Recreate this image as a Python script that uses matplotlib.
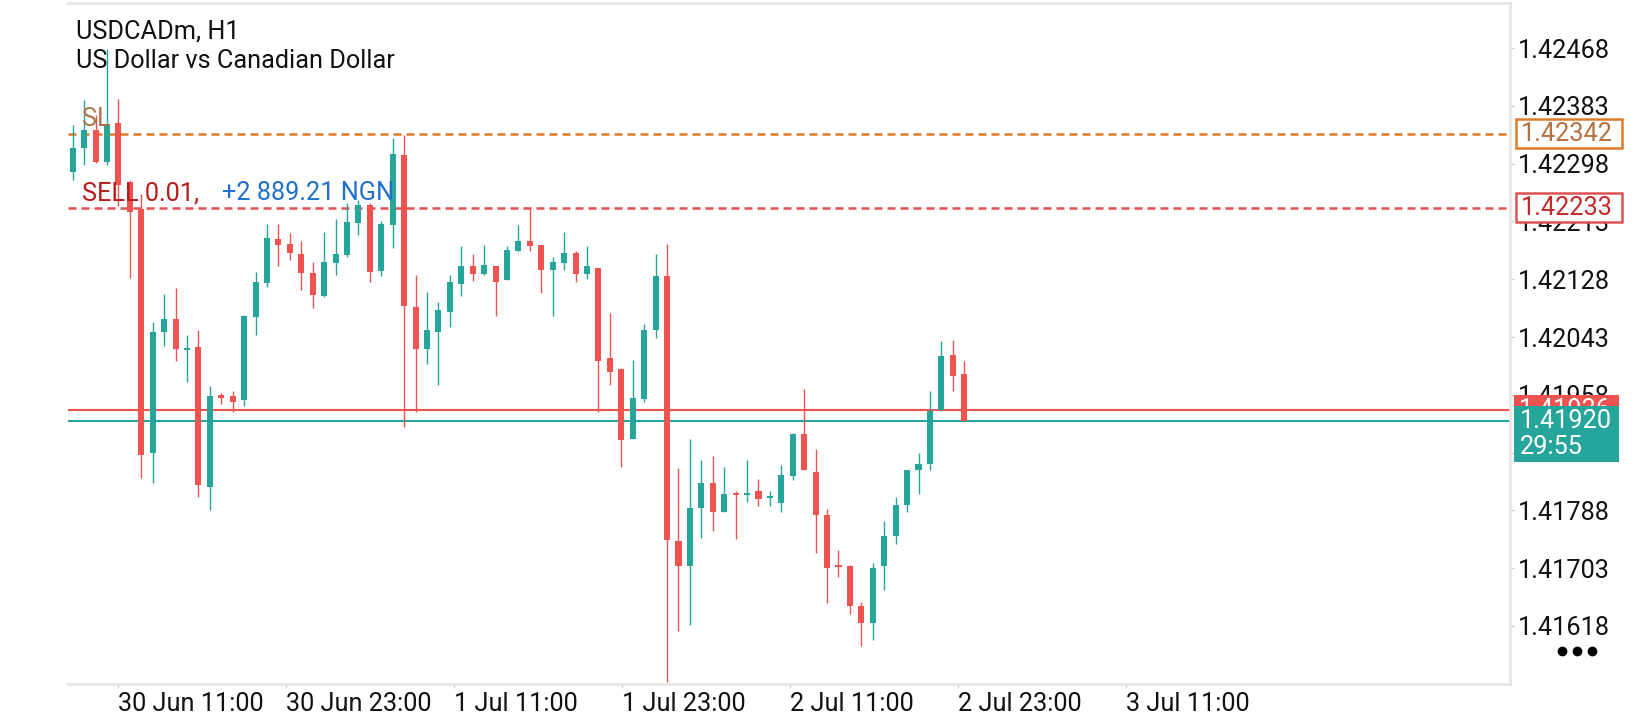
import matplotlib
matplotlib.use('Agg')
import matplotlib.pyplot as plt
import numpy as np
from matplotlib.patches import Rectangle
from matplotlib.lines import Line2D
from matplotlib.transforms import blended_transform_factory

plt.rcParams['font.family'] = ['Roboto', 'DejaVu Sans']

# USDCADm H1 candles (oldest first)
opens = [1.42286, 1.42321, 1.42347, 1.42301, 1.42357, 1.42271, 1.42231, 1.41873, 1.42050, 1.42070,
         1.42025, 1.42028, 1.41822, 1.41958, 1.41956, 1.41950, 1.42073, 1.42123, 1.42187, 1.42180,
         1.42165, 1.42137, 1.42104, 1.42152, 1.42164, 1.42211, 1.42237, 1.42140, 1.42208, 1.42311,
         1.42087, 1.42026, 1.42051, 1.42080, 1.42121, 1.42147, 1.42136, 1.42148, 1.42127, 1.42170,
         1.42184, 1.42178, 1.42142, 1.42152, 1.42167, 1.42136, 1.42144, 1.42012, 1.41996, 1.41893,
         1.41952, 1.42054, 1.42133, 1.41743, 1.41706, 1.41792, 1.41829, 1.41785, 1.41814, 1.41810,
         1.41816, 1.41807, 1.41799, 1.41839, 1.41901, 1.41845, 1.41781, 1.41707, 1.41706, 1.41648,
         1.41623, 1.41706, 1.41750, 1.41796, 1.41848, 1.41856, 1.41936, 1.42017, 1.41989]
highs = [1.42355, 1.42392, 1.42370, 1.42467, 1.42393, 1.42274, 1.42254, 1.42065, 1.42106, 1.42115,
         1.42046, 1.42054, 1.41971, 1.41960, 1.41964, 1.42076, 1.42138, 1.42209, 1.42209, 1.42196,
         1.42184, 1.42154, 1.42197, 1.42216, 1.42240, 1.42245, 1.42240, 1.42213, 1.42335, 1.42340,
         1.42134, 1.42109, 1.42095, 1.42134, 1.42177, 1.42165, 1.42178, 1.42148, 1.42177, 1.42208,
         1.42234, 1.42178, 1.42160, 1.42198, 1.42169, 1.42177, 1.42144, 1.42079, 1.41997, 1.42009,
         1.42062, 1.42165, 1.42180, 1.41850, 1.41893, 1.41862, 1.41868, 1.41852, 1.41816, 1.41862,
         1.41834, 1.41816, 1.41855, 1.41902, 1.41967, 1.41879, 1.41790, 1.41730, 1.41708, 1.41654,
         1.41711, 1.41773, 1.41808, 1.41848, 1.41872, 1.41963, 1.42037, 1.42039, 1.42008]
lows = [1.42274, 1.42296, 1.42299, 1.42296, 1.42235, 1.42130, 1.41835, 1.41829, 1.42030, 1.42007,
        1.41977, 1.41808, 1.41789, 1.41944, 1.41932, 1.41941, 1.42046, 1.42117, 1.42147, 1.42156,
        1.42112, 1.42085, 1.42102, 1.42134, 1.42161, 1.42193, 1.42124, 1.42133, 1.42174, 1.41910,
        1.41932, 1.42004, 1.41972, 1.42057, 1.42104, 1.42126, 1.42134, 1.42074, 1.42127, 1.42170,
        1.42170, 1.42108, 1.42074, 1.42141, 1.42124, 1.42128, 1.41932, 1.41972, 1.41852, 1.41893,
        1.41947, 1.42041, 1.41536, 1.41610, 1.41619, 1.41748, 1.41757, 1.41785, 1.41746, 1.41801,
        1.41794, 1.41794, 1.41785, 1.41833, 1.41847, 1.41725, 1.41652, 1.41690, 1.41636, 1.41589,
        1.41597, 1.41671, 1.41739, 1.41785, 1.41812, 1.41847, 1.41934, 1.41963, 1.41920]
closes = [1.42321, 1.42348, 1.42301, 1.42356, 1.42267, 1.42227, 1.41870, 1.42050, 1.42069, 1.42025,
          1.42027, 1.41825, 1.41956, 1.41953, 1.41947, 1.42074, 1.42124, 1.42188, 1.42179, 1.42167,
          1.42137, 1.42105, 1.42153, 1.42165, 1.42212, 1.42237, 1.42139, 1.42209, 1.42312, 1.42089,
          1.42026, 1.42053, 1.42083, 1.42124, 1.42147, 1.42136, 1.42149, 1.42124, 1.42171, 1.42184,
          1.42177, 1.42142, 1.42154, 1.42167, 1.42136, 1.42147, 1.42008, 1.41992, 1.41892, 1.41953,
          1.42054, 1.42133, 1.41744, 1.41706, 1.41791, 1.41829, 1.41785, 1.41812, 1.41810, 1.41814,
          1.41805, 1.41809, 1.41840, 1.41901, 1.41847, 1.41781, 1.41703, 1.41705, 1.41647, 1.41623,
          1.41704, 1.41751, 1.41796, 1.41848, 1.41856, 1.41934, 1.42015, 1.41986, 1.41920]

price_ticks = [1.42468, 1.42383, 1.42298, 1.42213, 1.42128, 1.42043, 1.41958,
               1.41873, 1.41788, 1.41703, 1.41618]
time_labels = ['30 Jun 11:00', '30 Jun 23:00', '1 Jul 11:00', '1 Jul 23:00',
               '2 Jul 11:00', '2 Jul 23:00', '3 Jul 11:00']
time_tick_pos = [3.94, 18.64, 33.34, 48.04, 62.74, 77.44, 92.14]

sl_price = 1.42342
entry_price = 1.42233
ask_price = 1.41936
bid_price = 1.41920
countdown = '29:55'
order_text = 'SELL 0.01,'
profit_text = '+2 889.21 NGN'

TEAL = '#26a69a'
RED = '#ef5350'
ORANGE = '#e07b2a'
GRID = '#e4e4e4'
FS = 18.2

W, H = 1640, 720
fig = plt.figure(figsize=(W / 100, H / 100), dpi=100)
ax = fig.add_axes([68 / W, 36 / H, 1442 / W, 681 / H])
ylo, yhi = 1.415327, 1.425342
ax.set_xlim(-0.41, 125.75)
ax.set_ylim(ylo, yhi)
ppx = (yhi - ylo) / 681  # price per pixel


def fx(x):
    return x / W


def fy(y):
    return 1 - y / H


# candles
o = np.array(opens)
c = np.array(closes)
xs = np.arange(len(o))
cols = np.where(c >= o, TEAL, RED)
ax.vlines(xs, lows, highs, colors=cols, linewidth=1.0, zorder=3)
bh = np.abs(c - o)
small = bh < 2 * ppx
bb = np.where(small, (o + c) / 2 - ppx, np.minimum(o, c))
bh = np.where(small, 2 * ppx, bh)
ax.bar(xs, bh, bottom=bb, width=0.53, color=cols, linewidth=0, zorder=4)

# trade / price levels
ax.axhline(sl_price, color=ORANGE, lw=1.8, dashes=(3.2, 2.0), zorder=2)
ax.axhline(entry_price, color='#e05252', lw=1.8, dashes=(3.2, 2.0), zorder=2)
ax.axhline(ask_price, color=RED, lw=1.5, zorder=2)
ax.axhline(bid_price, color=TEAL, lw=1.5, zorder=2)

# frame and axes
for side in ['top', 'right', 'bottom']:
    ax.spines[side].set_color(GRID)
    ax.spines[side].set_linewidth(1.8)
ax.spines['left'].set_visible(False)
ax.yaxis.tick_right()
ax.set_yticks(price_ticks)
ax.set_yticklabels([f'{p:.5f}' for p in price_ticks])
ax.tick_params(axis='y', length=3, width=1, color='#cfcfcf', pad=3,
               labelsize=FS, labelcolor='#111111')
ax.set_xticks(time_tick_pos)
ax.set_xticklabels(time_labels)
ax.tick_params(axis='x', length=3, width=1, color='#cfcfcf', pad=3,
               labelsize=FS, labelcolor='#111111')
for lab in ax.get_xticklabels():
    lab.set_ha('left')

# title
fig.text(fx(76), fy(31), 'USDCADm, H1', fontsize=FS, color='#111111', va='center')
fig.text(fx(76), fy(61), 'US Dollar vs Canadian Dollar', fontsize=FS, color='#111111', va='center')

# order labels
fig.text(fx(82), fy(119), 'SL', fontsize=FS, color='#a8774f', va='center', zorder=6)
fig.text(fx(82), fy(193), order_text, fontsize=FS, color='#b71c1c', va='center', zorder=6)
fig.text(fx(222), fy(193), profit_text, fontsize=FS, color='#1f6fcf', va='center', zorder=6)

# price boxes on the right scale
bt = blended_transform_factory(fig.transFigure, ax.transData)


def price_box(price, label, face, edge, tcolor, x0=1516, w=106, h=29, lw=1.8):
    ax.add_patch(Rectangle((fx(x0), price - h / 2 * ppx), fx(w), h * ppx, transform=bt,
                           facecolor=face, edgecolor=edge, lw=lw, clip_on=False, zorder=8))
    ax.text(fx(x0 + 5), price, label, transform=bt, fontsize=FS, color=tcolor,
            va='center', ha='left', clip_on=False, zorder=9)


price_box(sl_price, f'{sl_price:.5f}', 'white', ORANGE, '#b5703f')
price_box(entry_price, f'{entry_price:.5f}', 'white', '#e05252', '#c62828')
price_box(ask_price, f'{ask_price:.5f}', RED, RED, 'white', x0=1514, w=105, lw=0)
# bid box with countdown
ax.add_patch(Rectangle((fx(1514), bid_price - 41 * ppx), fx(105), 56 * ppx, transform=bt,
                       facecolor=TEAL, edgecolor='none', clip_on=False, zorder=10))
ax.text(fx(1520), bid_price, f'{bid_price:.5f}', transform=bt, fontsize=FS, color='white',
        va='center', clip_on=False, zorder=11)
ax.text(fx(1520), bid_price - 26 * ppx, countdown, transform=bt, fontsize=FS, color='white',
        va='center', clip_on=False, zorder=11)

# menu dots
fig.add_artist(Line2D([fx(1562), fx(1577), fx(1592)], [fy(651)] * 3, ls='none', marker='o',
                      markersize=6, color='black', transform=fig.transFigure))

fig.savefig('out.png', dpi=100, facecolor='white')
